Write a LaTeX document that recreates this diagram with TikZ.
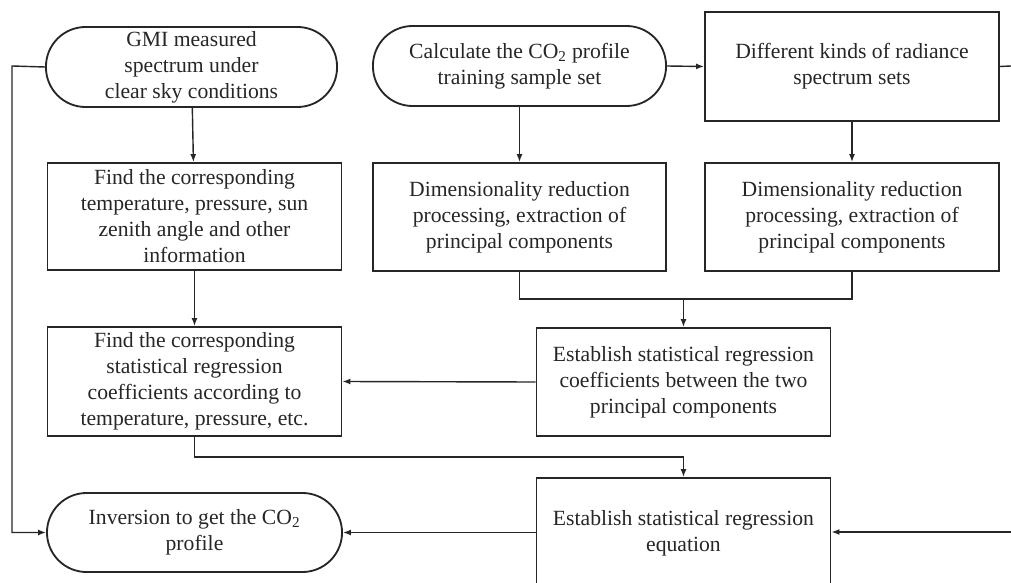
\documentclass[tikz,border=0pt]{standalone}
\usepackage{fontspec}
\setmainfont{Liberation Serif}
\usepackage{tikz}
\usetikzlibrary{arrows.meta,positioning,calc}

\begin{document}
\begin{tikzpicture}[x=0.025cm, y=-0.025cm, >=Latex,
  font=\fontsize{15.4}{18.5}\selectfont, color=black!85,
  stepbox/.style={draw, line width=1.3pt, align=center, inner sep=0pt,
    minimum width=7.35cm, minimum height=2.7cm},
  termbox/.style={stepbox, minimum height=2cm, rounded corners=0.99cm},
  flow/.style={line width=1pt, -{Latex[length=2mm,width=1.5mm]}},
  link/.style={line width=1pt}]
\clip (0,0) rectangle (1011,583);
% --- Left column: measured data ---
\node[termbox, minimum width=7.275cm] (gmi) at (191.5,67)
  {GMI measured\\spectrum under\\clear sky conditions};
\node[stepbox, minimum height=2.675cm] (find1) at (194.5,216.5)
  {Find the corresponding\\temperature, pressure, sun\\zenith angle and other\\information};
\node[stepbox, minimum height=2.725cm] (find2) at (194.5,381.5)
  {Find the corresponding\\statistical regression\\coefficients according to\\temperature, pressure, etc.};
\node[termbox, minimum width=7.375cm, minimum height=1.975cm] (inv) at (194.5,532.5)
  {Inversion to get the CO\textsubscript{2}\\profile};

% --- Middle and right columns: training samples ---
\node[termbox, minimum width=7.325cm] (calc) at (519.5,66)
  {Calculate the CO\textsubscript{2} profile\\training sample set};
\node[stepbox, minimum width=7.325cm] (dim1) at (519.5,217)
  {Dimensionality reduction\\processing, extraction of\\principal components};
\node[stepbox, minimum height=2.725cm] (diff) at (852,66.5)
  {Different kinds of radiance\\spectrum sets};
\node[stepbox] (dim2) at (852,217)
  {Dimensionality reduction\\processing, extraction of\\principal components};
\node[stepbox] (coef) at (683.5,382)
  {Establish statistical regression\\coefficients between the two\\principal components};
\node[stepbox, minimum height=2.75cm] (eqn) at (683.5,533)
  {Establish statistical regression\\equation};

% Free ends at the margins
\coordinate (lft) at (12,66);
\coordinate (rgt1) at (1011,66);
\coordinate (rgt2) at (1011,532);
\coordinate (mrg) at (683.5,299);
\coordinate (drop) at (194.5,457);

% --- Connectors ---
\draw[flow] (gmi) -- (find1);
\draw[flow] (find1) -- (find2);
\draw[flow] (gmi.west) -- (lft) |- (inv.west);
\draw[flow] (calc) -- (dim1);
\draw[flow] (calc.east) -- (diff.west);
\draw[flow] (diff) -- (dim2);
\draw[link] (diff.east) -- (rgt1);
\draw[link] (dim1.south) |- (mrg) -| (dim2.south);
\draw[flow] (mrg) -- (coef.north);
\draw[flow] (coef.west) -- (find2.east);
\draw[flow] (find2.south) -- (drop) -| (eqn.north);
\draw[flow] (rgt2) -- (eqn.east |- rgt2);
\draw[flow] (eqn.west |- inv.east) -- (inv.east);
\end{tikzpicture}
\end{document}
